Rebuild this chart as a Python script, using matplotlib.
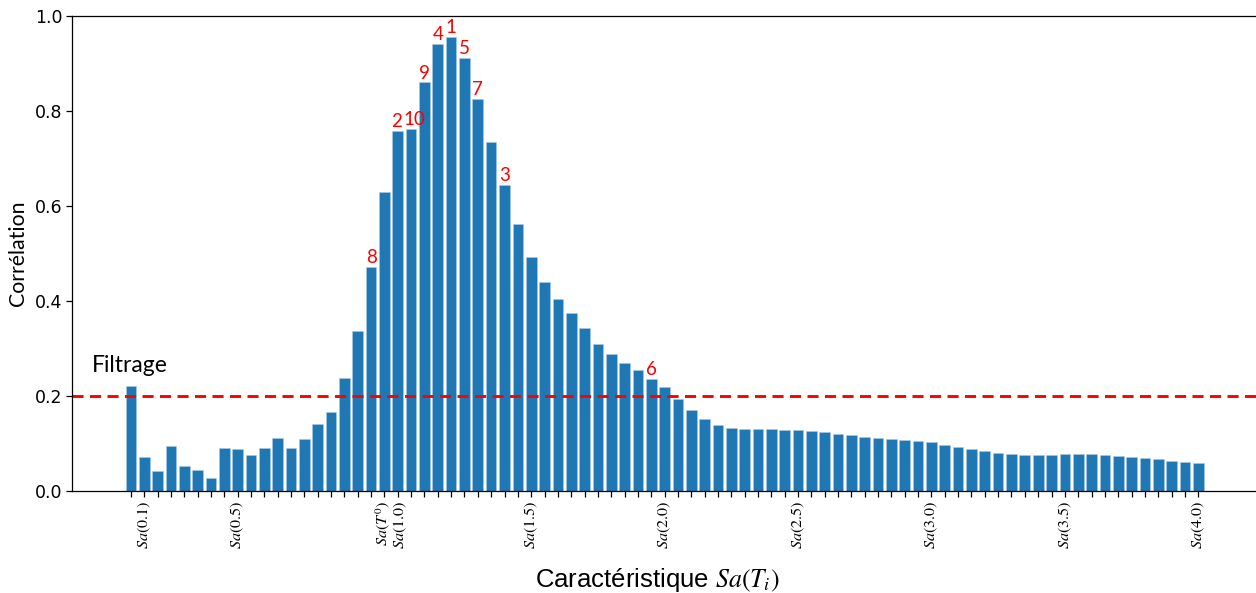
import matplotlib
matplotlib.use("Agg")
import matplotlib.pyplot as plt
from matplotlib.transforms import ScaledTranslation

# ---- data ----
correlation = [
    0.220, 0.072, 0.041, 0.095, 0.053, 0.044, 0.027, 0.090, 0.087, 0.075,
    0.090, 0.111, 0.090, 0.108, 0.140, 0.165, 0.238, 0.336, 0.472, 0.629,
    0.758, 0.763, 0.860, 0.941, 0.956, 0.911, 0.826, 0.734, 0.645, 0.561,
    0.492, 0.440, 0.404, 0.375, 0.342, 0.310, 0.287, 0.270, 0.254, 0.236,
    0.218, 0.194, 0.171, 0.151, 0.139, 0.133, 0.131, 0.131, 0.129, 0.127,
    0.127, 0.125, 0.123, 0.120, 0.118, 0.113, 0.111, 0.108, 0.106, 0.104,
    0.102, 0.097, 0.092, 0.088, 0.083, 0.080, 0.077, 0.075, 0.075, 0.075,
    0.077, 0.077, 0.077, 0.075, 0.073, 0.070, 0.068, 0.066, 0.063, 0.061,
    0.059,
]
tick_idx = [1, 8, 19, 20, 30, 40, 50, 60, 70, 80]
tick_text = [r"$Sa(0.1)$", r"$Sa(0.5)$", r"$Sa(T^0)$", r"$Sa(1.0)$",
             r"$Sa(1.5)$", r"$Sa(2.0)$", r"$Sa(2.5)$", r"$Sa(3.0)$",
             r"$Sa(3.5)$", r"$Sa(4.0)$"]
rank_idx = [24, 20, 28, 23, 25, 39, 26, 18, 22, 21]
rank_text = ["1", "2", "3", "4", "5", "6", "7", "8", "9", "10"]
threshold = 0.2
threshold_label = "Filtrage"

# ---- figure ----
plt.rcParams["mathtext.fontset"] = "stix"
DPI = 100
fig = plt.figure(figsize=(12.56, 5.93), dpi=DPI)
ax = fig.add_axes([71.7 / 1256, 102.3 / 593, (1257.5 - 71.7) / 1256, (577 - 102.3) / 593])

x = list(range(len(correlation)))
ax.bar(x, correlation, width=0.8, color="#1f77b4", edgecolor="#a9c9e3", linewidth=0.4)

ax.axhline(threshold, color="red", linestyle="--", linewidth=2.1, dashes=(3.8, 2.2))
ax.text(-2.9, 0.25, threshold_label, fontsize=16.5, family="Lato", ha="left", va="baseline")

label_shift_px = {"2": -1.5, "10": 3.5}
for i, t in zip(rank_idx, rank_text):
    dx = label_shift_px.get(t, 0.0)
    tr = ax.transData + ScaledTranslation(dx / DPI, 0, fig.dpi_scale_trans)
    ax.text(i, correlation[i] + 0.002, t, color="red", fontsize=13.5, family="Lato",
            ha="center", va="bottom", transform=tr)

ax.set_ylim(0, 1.0)
ax.set_yticks([0.0, 0.2, 0.4, 0.6, 0.8, 1.0])
ax.set_yticklabels(["0.0", "0.2", "0.4", "0.6", "0.8", "1.0"])
ax.tick_params(axis="y", labelsize=12.5, length=4, width=0.9, pad=2.5)

labels = [""] * len(correlation)
for i, t in zip(tick_idx, tick_text):
    labels[i] = t
ax.set_xticks(x)
ax.set_xticklabels(labels, rotation=90, fontsize=11.6)
ax.tick_params(axis="x", length=4, width=0.9, pad=3.5)

fig.canvas.draw()
tl = ax.get_xticklabels()
tl[19].set_transform(tl[19].get_transform() + ScaledTranslation(-2 / DPI, 0, fig.dpi_scale_trans))
tl[20].set_transform(tl[20].get_transform() + ScaledTranslation(2.5 / DPI, 0, fig.dpi_scale_trans))

ax.set_ylabel("Corrélation", fontsize=15.3, family="Lato")
ax.yaxis.set_label_coords((28 - 71.7) / 1185.8, 0.5)

fig.text(657 / 1256, 1 - 580 / 593, r"Caractéristique $Sa(T_i)$", fontsize=18.5,
         family="Liberation Sans", ha="center", va="center")

for s in ax.spines.values():
    s.set_linewidth(0.9)

fig.savefig("out.png", dpi=DPI)
